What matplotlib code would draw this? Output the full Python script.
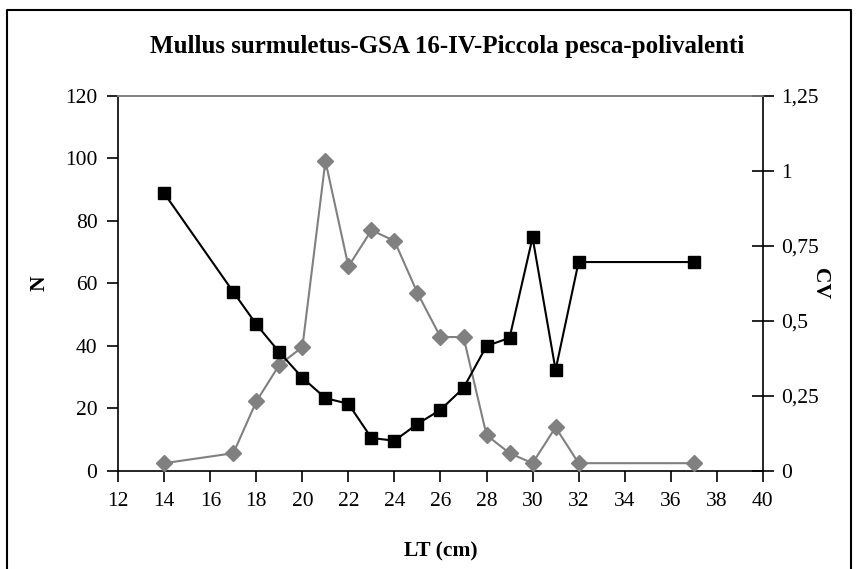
import numpy as np
import matplotlib.pyplot as plt
from matplotlib.lines import Line2D

plt.rcParams['font.family'] = ['Liberation Serif', 'DejaVu Serif']

# Lunghezza totale (cm)
lt = [14, 17, 18, 19, 20, 21, 22, 23, 24, 25, 26, 27, 28, 29, 30, 31, 32, 37]
# Numero di individui (asse sinistro)
n_val = [2.4, 5.6, 22.2, 33.9, 39.6, 99.2, 65.4, 77.0, 73.6, 56.9, 42.8, 42.8,
         11.4, 5.6, 2.4, 13.9, 2.4, 2.4]
# Coefficiente di variazione (asse destro)
cv_val = [0.925, 0.596, 0.488, 0.395, 0.310, 0.242, 0.223, 0.109, 0.100, 0.156,
          0.203, 0.276, 0.416, 0.443, 0.778, 0.336, 0.696, 0.696]

x_ticks = list(range(12, 41, 2))
n_ticks = list(range(0, 121, 20))
cv_ticks = [0, 0.25, 0.5, 0.75, 1, 1.25]
cv_labels = ['0', '0,25', '0,5', '0,75', '1', '1,25']

fig = plt.figure(figsize=(8.57, 5.69), dpi=100)
ax = fig.add_axes([0.138, 0.1728, 0.752, 0.6585])
ax2 = ax.twinx()

ax.plot(lt, n_val, color='#808080', marker='D', markersize=8, linewidth=1.5,
        zorder=3)
ax2.plot(lt, cv_val, color='black', marker='s', markersize=8.5, linewidth=1.5,
         zorder=3)

ax.set_xlim(12, 40)
ax.set_ylim(0, 120)
ax2.set_ylim(0, 1.25)
ax.set_xticks(x_ticks)
ax.set_yticks(n_ticks)
ax2.set_yticks(cv_ticks)
ax2.set_yticklabels(cv_labels)

for a in (ax, ax2):
    for s in a.spines.values():
        s.set_linewidth(1.2)
    a.spines['top'].set_color('#808080')
ax2.spines['left'].set_visible(False)
ax2.spines['bottom'].set_visible(False)
ax.spines['right'].set_visible(False)

ax.tick_params(axis='both', labelsize=15.5, length=8, width=1.2, direction='out',
               pad=7)
ax2.tick_params(axis='y', labelsize=15.5, length=16, width=1.2, direction='inout',
                pad=5)

fig.text(447 / 857, 1 - 47 / 569,
         'Mullus surmuletus-GSA 16-IV-Piccola pesca-polivalenti',
         fontsize=18, fontweight='bold', ha='center', va='center')
ax.set_xlabel('LT (cm)', fontsize=15.5, fontweight='bold')
ax.xaxis.set_label_coords(0.5, -0.217)
ax.set_ylabel('N', fontsize=15.5, fontweight='bold')
ax.yaxis.set_label_coords(-0.1215, 0.5)
ax2.set_ylabel('CV', fontsize=15.5, fontweight='bold', rotation=-90,
               va='center')
ax2.yaxis.set_label_coords(1.089, 0.5)
ax.xaxis.label.set_va('center')
ax.yaxis.label.set_va('center')

# cornice esterna
W, H = 857, 569
x0, x1, y0 = 7 / W, 851 / W, 1 - 10 / H
fig.add_artist(Line2D([x0, x0, x1, x1], [0, y0, y0, 0], color='black',
                      linewidth=1.5, transform=fig.transFigure))

fig.savefig('out.png', dpi=100)
